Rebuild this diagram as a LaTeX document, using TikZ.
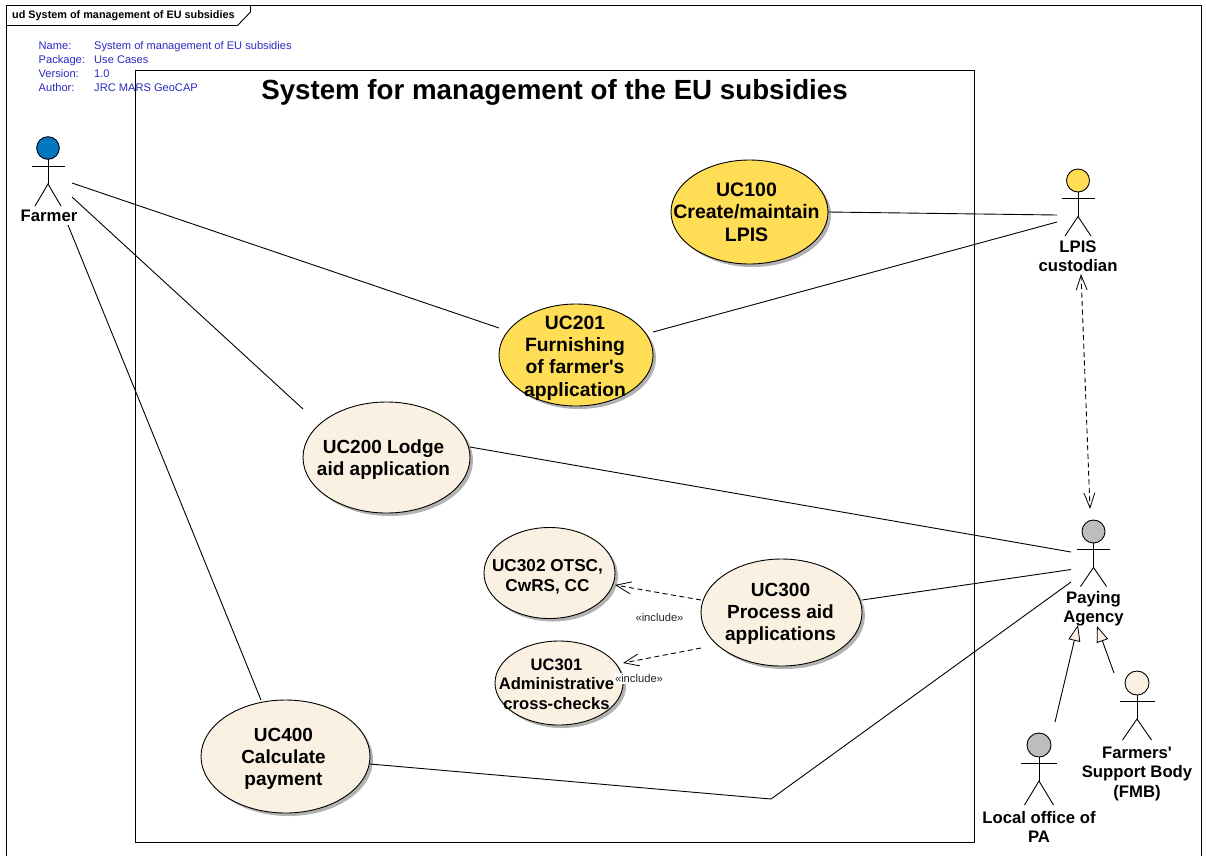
\documentclass[tikz,border=0pt]{standalone}
\usepackage{fontspec}
\setmainfont{Liberation Sans}
\usetikzlibrary{shapes.geometric,arrows.meta,shadows,calc}
\definecolor{cream}{HTML}{FBF1E2}
\definecolor{ucyellow}{HTML}{FFDD55}
\definecolor{farmblue}{HTML}{0277BD}
\definecolor{agrey}{HTML}{BDBDBD}
\definecolor{infoblue}{HTML}{2A2AC0}
\newcommand{\fs}[1]{\fontsize{#1}{#1}\selectfont\bfseries}
\tikzset{
  line/.style={draw=black,line width=0.9pt},
  usecase/.style={ellipse,draw=black,line width=0.9pt,inner sep=0pt,outer sep=0pt,
    drop shadow={shadow xshift=3pt,shadow yshift=-3pt,fill=black,opacity=0.3}},
  actorbox/.style={rectangle,inner sep=0pt,outer sep=0pt},
  actorlabel/.style={inner sep=0pt,align=center,font=\fs{16.7},text height=12pt,text depth=3.5pt},
  dep/.style={line,dashed,dash pattern=on 5pt off 3.5pt,-{Straight Barb[length=15pt,width=12pt,line width=0.8pt]}},
  dep2/.style={line,dashed,dash pattern=on 5pt off 3.5pt,{Straight Barb[length=15pt,width=11pt,line width=0.8pt]}-{Straight Barb[length=15pt,width=11pt,line width=0.8pt]}},
  gen/.style={line,-{Triangle[length=16pt,width=12pt,fill=cream,line width=0.8pt]}},
  info/.style={inner sep=0pt,anchor=base west,text=infoblue,font=\fontsize{11.1}{12}\selectfont},
  stereo/.style={inner sep=1pt,text=black!85,font=\fontsize{11.2}{12}\selectfont},
}
% #1 name, #2 head x, #3 head y, #4 colour, #5 half arm, #6 half leg, #7 radius, #8 leg drop
\newcommand{\actorfig}[8]{%
  \draw[line,fill=#4] (#2,#3) circle[radius=#7];
  \draw[line] (#2-#5,#3+18) -- (#2+#5,#3+18);
  \draw[line] (#2,#3+#7) -- (#2,#3+36) coordinate (#1hip);
  \draw[line] (#2-#6,#3+36+#8) -- (#1hip) -- (#2+#6,#3+36+#8);
}
\begin{document}
\begin{tikzpicture}[x=1pt,y=-1pt]
\useasboundingbox (0,0) rectangle (1206,855);
\fill[white] (0,0) rectangle (1206,855);
% diagram frame
\draw[line] (6.5,860) -- (6.5,5.5) -- (1201.5,5.5) -- (1201.5,860);
\draw[line] (6.5,25.5) -- (237.5,25.5) -- (250.5,12) -- (250.5,5.5);
\node[inner sep=0pt,anchor=west,font=\fontsize{10.85}{12}\selectfont\bfseries] (frametitle) at (12,15.5) {ud System of management of EU subsidies};
% info
\node[info] (i1) at (38.5,49.5) {Name:};
\node[info] (i2) at (38.5,63.5) {Package:};
\node[info] (i3) at (38.5,77.5) {Version:};
\node[info] (i4) at (38.5,91.5) {Author:};
\node[info] (v1) at (94,49.5) {System of management of EU subsidies};
\node[info] (v2) at (94,63.5) {Use Cases};
\node[info] (v3) at (94,77.5) {1.0};
\node[info] (v4) at (94,91.5) {JRC MARS GeoCAP};
% system boundary
\draw[line] (135.5,70.5) rectangle (974,842);
\node[inner sep=0pt,font=\fontsize{27.7}{30}\selectfont\bfseries] (systitle) at (554.5,92) {System for management of the EU subsidies};
% actor boxes (connector ends)
\node[actorbox,minimum width=48pt,minimum height=90pt] (farmer) at (48,180) {};
\node[actorbox,minimum width=42pt,minimum height=106pt] (lpis) at (1078,222) {};
\node[actorbox,minimum width=44pt,minimum height=110pt] (paying) at (1093,564) {};
\node[actorbox,minimum width=46pt,minimum height=110pt] (fmb) at (1137,728) {};
\node[actorbox,minimum width=32pt,minimum height=110pt] (local) at (1039,777) {};
% use cases
\node[usecase,fill=ucyellow,minimum width=157pt,minimum height=104pt,label={[align=center,font=\fs{19.5},xshift=-3pt]center:UC100\\[3pt]Create/maintain\\[3pt]LPIS}] (uc100) at (749.5,212) {};
\node[usecase,fill=ucyellow,minimum width=154pt,minimum height=102pt,label={[align=center,font=\fs{19.3},xshift=-1pt,yshift=-3pt]center:UC201\\[3pt]Furnishing\\[3pt]of farmer\textquotesingle s\\[3pt]application}] (uc201) at (576,355) {};
\node[usecase,fill=cream,minimum width=167pt,minimum height=111pt,label={[align=center,font=\fs{19},xshift=-3pt,yshift=-2pt]center:UC200 Lodge\\[3pt]aid application}] (uc200) at (386.5,457.5) {};
\node[usecase,fill=cream,minimum width=131pt,minimum height=91pt,label={[align=center,font=\fs{17.2},xshift=-2pt,yshift=-4pt]center:UC302 OTSC,\\[3pt]CwRS, CC}] (uc302) at (549.5,573) {};
\node[usecase,fill=cream,minimum width=128pt,minimum height=84pt,label={[align=center,font=\fs{16.6},xshift=-2.5pt,yshift=-1pt]center:UC301\\[3pt]Administrative\\[3pt]cross-checks}] (uc301) at (559,683) {};
\node[usecase,fill=cream,minimum width=161pt,minimum height=107pt,label={[align=center,font=\fs{19},xshift=-1pt,yshift=-1pt]center:UC300\\[3pt]Process aid\\[3pt]applications}] (uc300) at (781.5,612.5) {};
\node[usecase,fill=cream,minimum width=169pt,minimum height=113pt,label={[align=center,font=\fs{19},xshift=-2pt,yshift=-2pt]center:UC400\\[3pt]Calculate\\[3pt]payment}] (uc400) at (285.5,756.5) {};
% actor figures
\actorfig{fa}{48}{148}{farmblue}{16.5}{13}{11.3}{22}
\actorfig{lp}{1078}{180.5}{ucyellow}{16.5}{13}{11.5}{19.5}
\actorfig{pa}{1093.5}{531.5}{agrey}{16.5}{13}{11.5}{19}
\actorfig{fb}{1137}{683}{cream}{17.5}{14.5}{12}{21}
\actorfig{lo}{1039}{745}{agrey}{18}{14.5}{12}{24}
\node[actorlabel] (lfarmer) at (49,217) {Farmer};
\node[actorlabel] (llpis1) at (1078,248) {LPIS};
\node[actorlabel] (llpis2) at (1078,267) {custodian};
\node[actorlabel] (lpay1) at (1093.5,599.5) {Paying};
\node[actorlabel] (lpay2) at (1093.5,618.5) {Agency};
\node[actorlabel] (lfmb1) at (1137,754) {Farmers\textquotesingle};
\node[actorlabel] (lfmb2) at (1137,773.5) {Support Body};
\node[actorlabel] (lfmb3) at (1137,793) {(FMB)};
\node[actorlabel] (lloc1) at (1039,819) {Local office of};
\node[actorlabel] (lloc2) at (1039,838.5) {PA};
% associations
\draw[line] ([yshift=-3pt]farmer.east) -- ([yshift=27pt]uc201.west);
\draw[line] ([yshift=-17pt]farmer.east) -- ([xshift=-83.5pt,yshift=48.5pt]uc200.center);
\draw[line] ([xshift=20pt]farmer.south) -- ([xshift=-24.5pt]uc400.north);
\draw[line] (uc100.east) -- ([yshift=7pt]lpis.west);
\draw[line] ([yshift=23pt]uc201.east) -- (lpis.west);
\draw[line] ([yshift=10.5pt]uc200.east) -- ([yshift=12pt]paying.west);
\draw[line] ([yshift=12.5pt]uc300.east) -- ([yshift=-5.5pt]paying.west);
\coordinate (bend) at (771,799);
\draw[line] ([yshift=-7.5pt]uc400.east) -- (bend) -- ([yshift=-18pt]paying.west);
% lpis <-> paying
\draw[dep2] ([xshift=3pt,yshift=1pt]lpis.south) -- ([xshift=-3pt]paying.north);
% includes
\draw[dep] ([yshift=12.5pt]uc300.west) -- ([yshift=-12pt]uc302.east);
\draw[dep] ([yshift=-35.5pt]uc300.west) -- ([yshift=20pt]uc301.east);
\node[stereo] (inc1) at (659.5,617.5) {«include»};
\node[stereo,fill=white] (inc2) at (639,678.5) {«include»};
% generalisations
\draw[gen] ([xshift=16pt]local.north) -- ([xshift=-15pt,yshift=-6pt]paying.south);
\draw[gen] ([xshift=-23pt]fmb.north) -- ([xshift=4pt,yshift=-7pt]paying.south);
\end{tikzpicture}
\end{document}
